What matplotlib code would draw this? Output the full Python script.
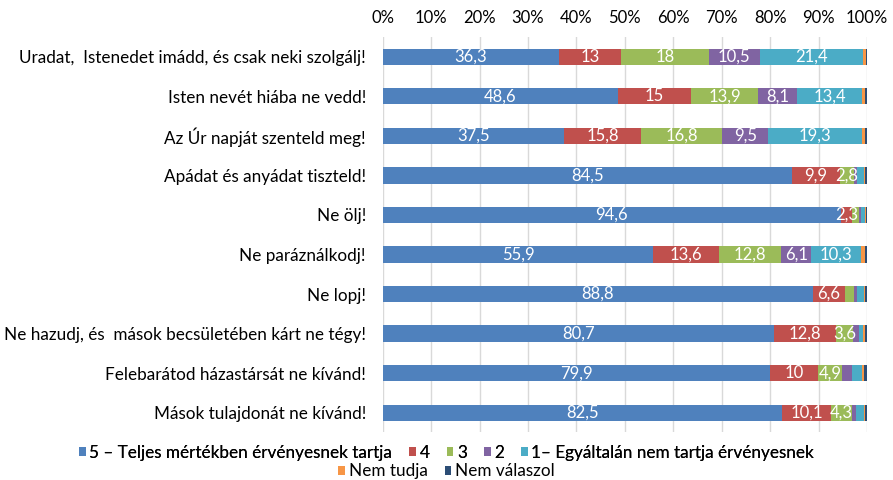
import matplotlib.pyplot as plt
from matplotlib.patches import Patch
import numpy as np

plt.rcParams['font.family'] = ['Lato', 'DejaVu Sans']

kategoriak = [
    'Uradat,  Istenedet imádd, és csak neki szolgálj!',
    'Isten nevét hiába ne vedd!',
    'Az Úr napját szenteld meg!',
    'Apádat és anyádat tiszteld!',
    'Ne ölj!',
    'Ne paráználkodj!',
    'Ne lopj!',
    'Ne hazudj, és  mások becsületében kárt ne tégy!',
    'Felebarátod házastársát ne kívánd!',
    'Mások tulajdonát ne kívánd!',
]

sorozatok = [
    '5 – Teljes mértékben érvényesnek tartja', '4', '3', '2',
    '1– Egyáltalán nem tartja érvényesnek', 'Nem tudja', 'Nem válaszol',
]

v5 = [36.3, 48.6, 37.5, 84.5, 94.6, 55.9, 88.8, 80.7, 79.9, 82.5]
v4 = [13, 15, 15.8, 9.9, 2.3, 13.6, 6.6, 12.8, 10, 10.1]
v3 = [18, 13.9, 16.8, 2.8, 1.5, 12.8, 1.8, 3.6, 4.9, 4.3]
v2 = [10.5, 8.1, 9.5, 0.8, 0.4, 6.1, 0.8, 1.2, 2.0, 0.8]
v1 = [21.4, 13.4, 19.3, 1.3, 0.8, 10.3, 1.4, 0.9, 2.2, 1.6]
nem_tudja = [0.5, 0.6, 0.7, 0.2, 0.1, 0.8, 0.2, 0.4, 0.4, 0.2]
nem_valaszol = [0.3, 0.4, 0.4, 0.5, 0.3, 0.5, 0.4, 0.4, 0.6, 0.5]

szinek = ['#4F81BD', '#C0504D', '#9BBB59', '#8064A2', '#4BACC6', '#F79646', '#2C4D75']

adatok = [v5, v4, v3, v2, v1, nem_tudja, nem_valaszol]

fig = plt.figure(figsize=(8.93, 4.8), dpi=100)
ax = fig.add_axes([0.4285, 0.099, 0.5425, 0.824])

y = np.arange(len(kategoriak))
bal = np.zeros(len(kategoriak))
for ertekek, szin in zip(adatok, szinek):
    ertekek = np.array(ertekek, dtype=float)
    ax.barh(y, ertekek, left=bal, height=0.41, color=szin, zorder=2)
    for yi, b, v in zip(y, bal, ertekek):
        if v >= 2.3:
            txt = f'{v:g}'.replace('.', ',')
            ax.text(b + v / 2, yi, txt, ha='center', va='center',
                    color='white', fontsize=12, zorder=3)
    bal += ertekek

ax.set_xlim(0, 100)
ax.set_ylim(len(kategoriak) - 0.5, -0.5)
ax.set_xticks(np.arange(0, 101, 10))
ax.set_xticklabels([f'{t}%' for t in range(0, 101, 10)])
ax.xaxis.tick_top()
ax.tick_params(axis='x', length=0, pad=8, labelsize=12)
ax.set_yticks(y)
ax.set_yticklabels(kategoriak)
ax.tick_params(axis='y', length=0, pad=12, labelsize=12.3)
ax.grid(axis='x', color='#D9D9D9', linewidth=1, zorder=0)
for s in ax.spines.values():
    s.set_visible(False)

kez = [Patch(facecolor=c, edgecolor='none') for c in szinek]
leg1 = fig.legend(kez[:5], sorozatok[:5], loc='center', bbox_to_anchor=(0.5, 0.057),
                  ncol=5, frameon=False, fontsize=12.3, handlelength=0.4, handleheight=0.4,
                  handletextpad=0.2, columnspacing=1.0, borderaxespad=0)
leg2 = fig.legend(kez[5:], sorozatok[5:], loc='center', bbox_to_anchor=(0.5, 0.018),
                  ncol=2, frameon=False, fontsize=12.3, handlelength=0.4, handleheight=0.4,
                  handletextpad=0.2, columnspacing=1.0, borderaxespad=0)
fig.add_artist(leg1)

plt.savefig('out.png', dpi=100)
